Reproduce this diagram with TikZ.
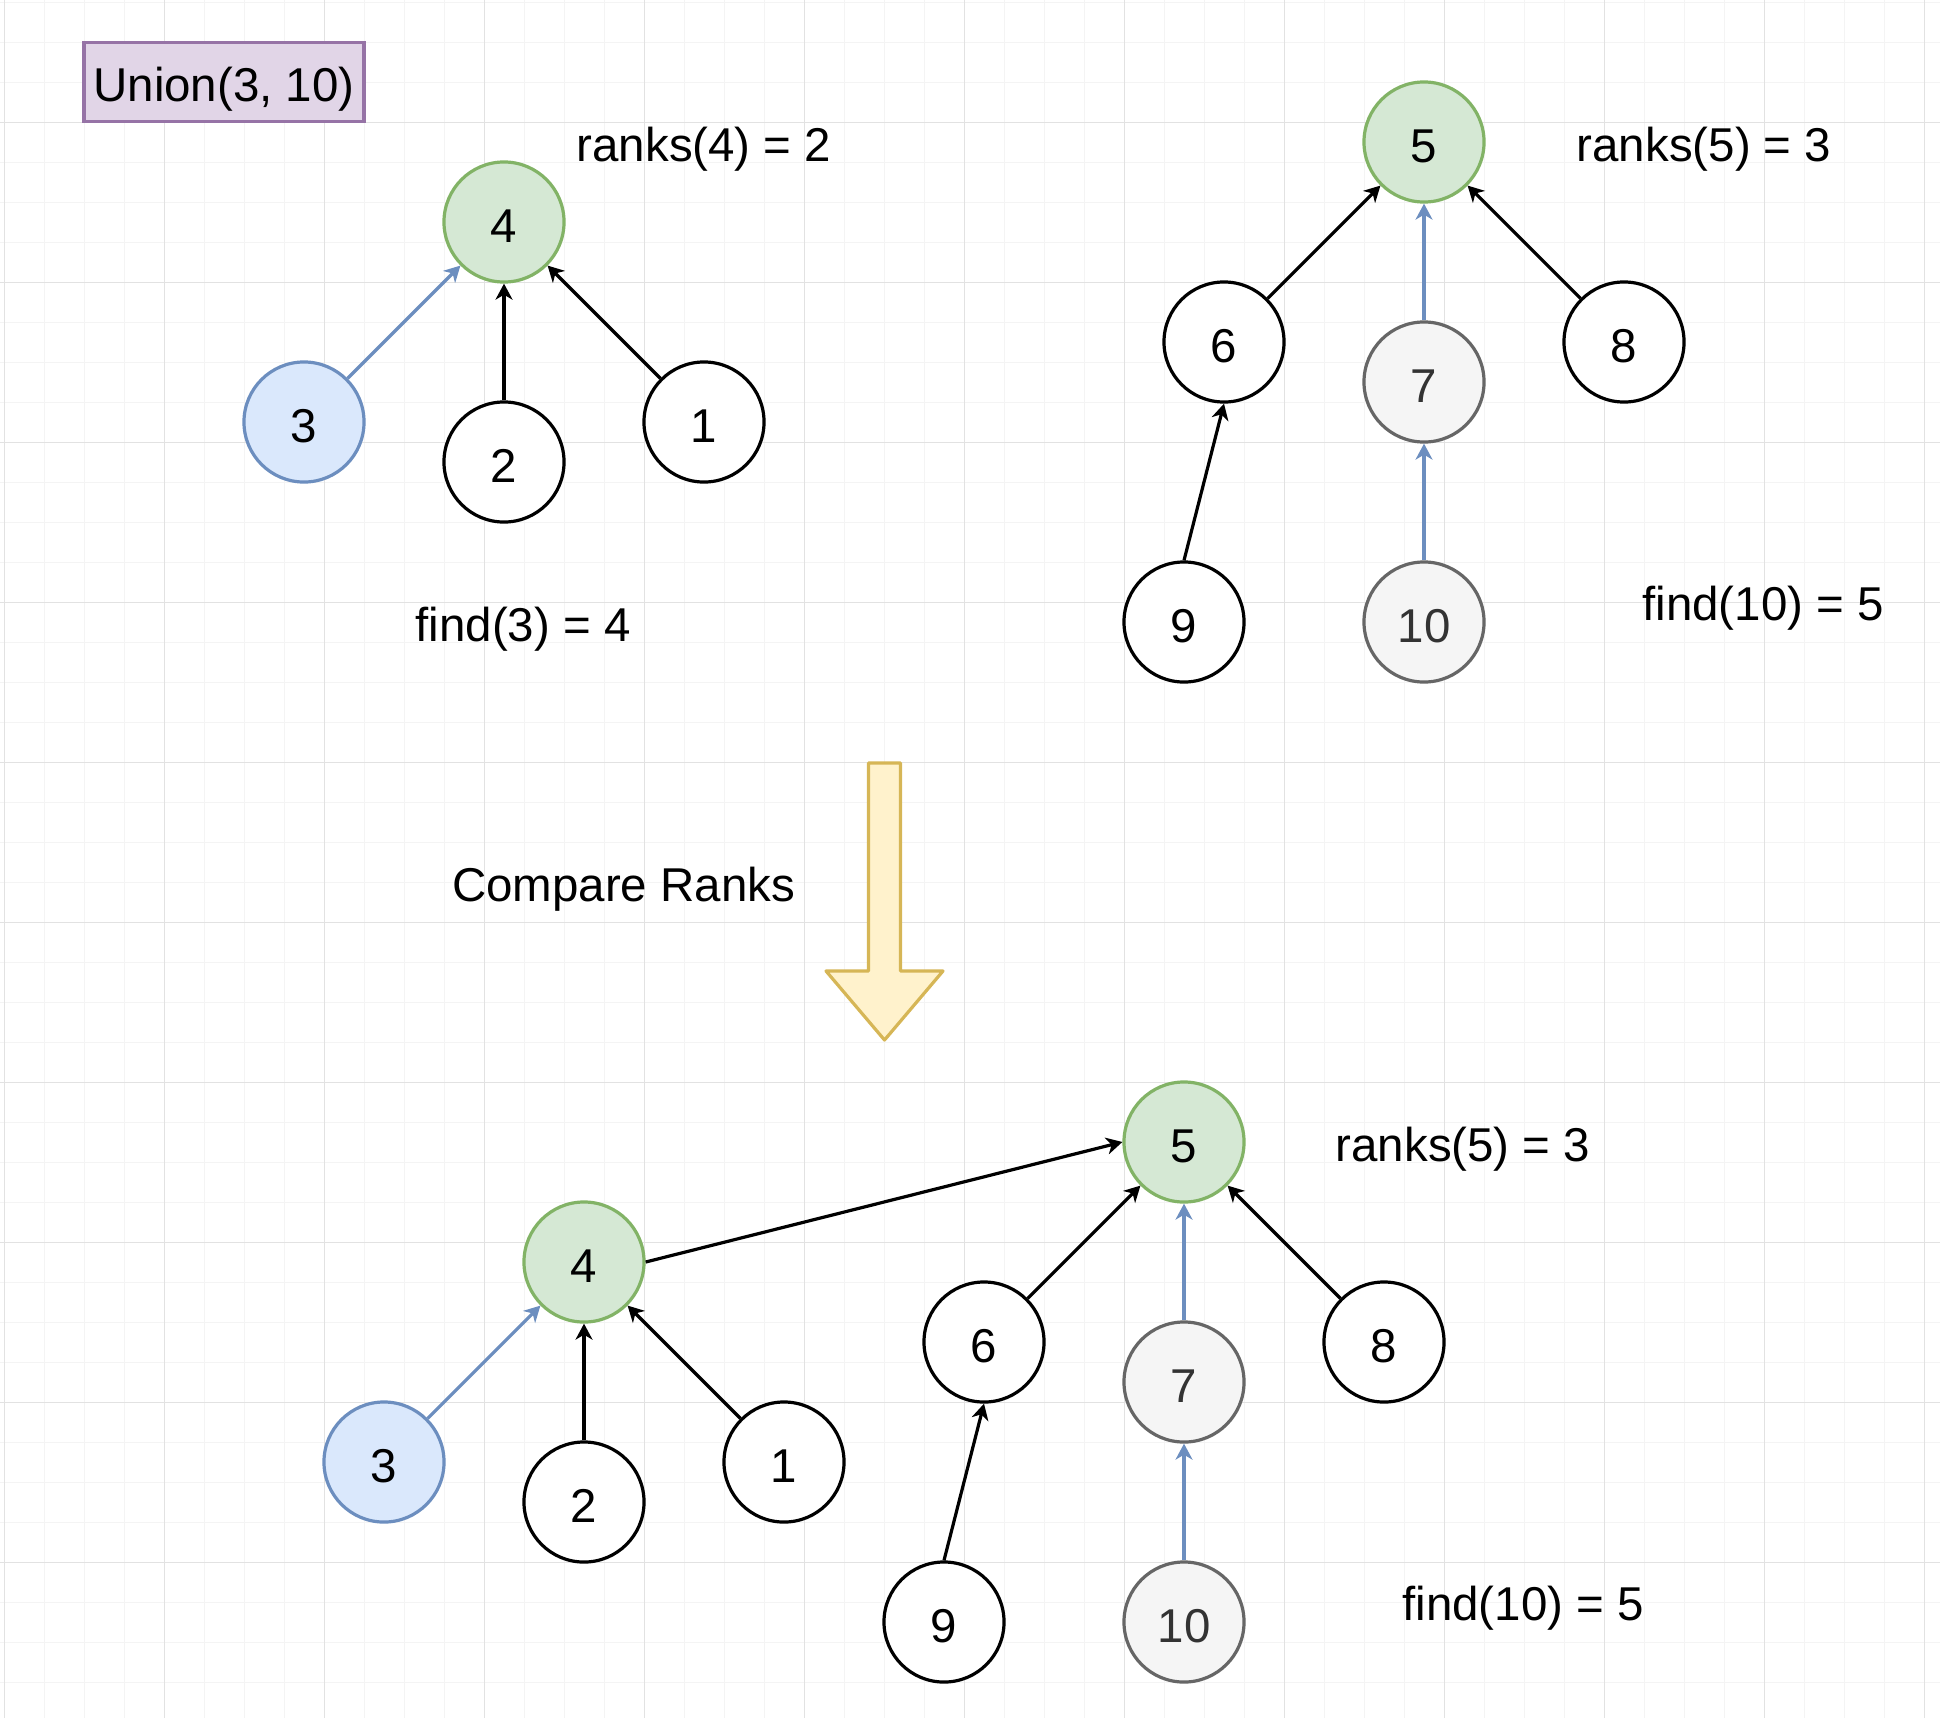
\documentclass[tikz,border=0pt]{standalone}
\usepackage{fontspec}
\setmainfont{Liberation Sans}
\usetikzlibrary{arrows.meta}
\definecolor{rootfill}{HTML}{D5E8D4}
\definecolor{rootline}{HTML}{82B366}
\definecolor{findfill}{HTML}{DAE8FC}
\definecolor{findline}{HTML}{6C8EBF}
\definecolor{pathfill}{HTML}{F5F5F5}
\definecolor{pathline}{HTML}{666666}
\definecolor{pathtext}{HTML}{333333}
\definecolor{unionfill}{HTML}{E1D5E7}
\definecolor{unionline}{HTML}{9673A6}
\definecolor{arrowfill}{HTML}{FFF2CC}
\definecolor{arrowline}{HTML}{D6B656}
\definecolor{gridminor}{HTML}{F4F4F4}
\definecolor{gridmajor}{HTML}{E2E2E2}

\begin{document}
\begin{tikzpicture}[x=0.01cm, y=-0.01cm,
  every node/.style={font=\fontsize{13.5}{16}\selectfont},
  vert/.style={circle, draw, fill=white, line width=0.032cm, minimum size=1.2cm, inner sep=0pt,
    text height=0.4cm, text depth=0cm},
  root/.style={vert, draw=rootline, fill=rootfill},
  findnode/.style={vert, draw=findline, fill=findfill},
  onpath/.style={vert, draw=pathline, fill=pathfill, text=pathtext},
  link/.style={-{Stealth[length=0.16cm, width=0.17cm, inset=0.05cm]}, line width=0.032cm},
  blink/.style={link, draw=findline, fill=findline},
  lbl/.style={anchor=base, inner sep=0pt},
  unionbox/.style={draw=unionline, fill=unionfill, line width=0.032cm, anchor=base,
    minimum width=2.8cm, text height=0.592cm, text depth=0.198cm, inner sep=0pt},
  bigarrow/.style={draw=arrowline, fill=arrowfill, line width=0.032cm, line join=round}]
\useasboundingbox (0,0) rectangle (1940,1718);

%grid
\foreach \x in {4,44,...,1940} \draw[gridminor, line width=0.01cm] (\x,0) -- (\x,1718);
\foreach \y in {2,42,...,1718} \draw[gridminor, line width=0.01cm] (0,\y) -- (1940,\y);
\foreach \x in {4,164,...,1940} \draw[gridmajor, line width=0.01cm] (\x,0) -- (\x,1718);
\foreach \y in {122,282,...,1718} \draw[gridmajor, line width=0.01cm] (0,\y) -- (1940,\y);

\node[unionbox] (union) at (224,101.7) {Union(3, 10)};

%top left tree
\node[root] (t4) at (504,222) {4};
\node[findnode] (t3) at (304,422) {3};
\node[vert] (t2) at (504,462) {2};
\node[vert] (t1) at (704,422) {1};

%top right tree
\node[root] (t5) at (1424,142) {5};
\node[vert] (t6) at (1224,342) {6};
\node[onpath] (t7) at (1424,382) {7};
\node[vert] (t8) at (1624,342) {8};
\node[vert] (t9) at (1184,622) {9};
\node[onpath] (t10) at (1424,622) {10};

\draw[blink] (t3) -- (t4);
\draw[link] (t2) -- (t4);
\draw[link] (t1) -- (t4);
\draw[link] (t6) -- (t5);
\draw[blink] (t7) -- (t5);
\draw[link] (t8) -- (t5);
\draw[link] (t9.north) -- (t6.south);
\draw[blink] (t10) -- (t7);

%labels
\node[lbl] (rank4) at (704,161.7) {ranks(4) = 2};
\node[lbl] (rank5) at (1704,161.7) {ranks(5) = 3};
\node[lbl] (find3) at (523,641.7) {find(3) = 4};
\node[lbl] (find10) at (1763,620) {find(10) = 5};

%compare
\node[lbl] (compare) at (623.5,901) {Compare Ranks};
\draw[bigarrow] (868.5,763) -- (900.5,763) -- (900.5,971) -- (943,971) -- (884.5,1040)
  -- (826,971) -- (868.5,971) -- cycle;

%merged tree
\node[root] (b5) at (1184,1142) {5};
\node[root] (b4) at (584,1262) {4};
\node[findnode] (b3) at (384,1462) {3};
\node[vert] (b2) at (584,1502) {2};
\node[vert] (b1) at (784,1462) {1};
\node[vert] (b6) at (984,1342) {6};
\node[onpath] (b7) at (1184,1382) {7};
\node[vert] (b8) at (1384,1342) {8};
\node[vert] (b9) at (944,1622) {9};
\node[onpath] (b10) at (1184,1622) {10};

\draw[link] (b4.east) -- (b5.west);
\draw[blink] (b3) -- (b4);
\draw[link] (b2) -- (b4);
\draw[link] (b1) -- (b4);
\draw[link] (b6) -- (b5);
\draw[blink] (b7) -- (b5);
\draw[link] (b8) -- (b5);
\draw[link] (b9.north) -- (b6.south);
\draw[blink] (b10) -- (b7);

\node[lbl] (brank5) at (1463,1161.7) {ranks(5) = 3};
\node[lbl] (bfind10) at (1523,1620) {find(10) = 5};

\end{tikzpicture}
\end{document}
